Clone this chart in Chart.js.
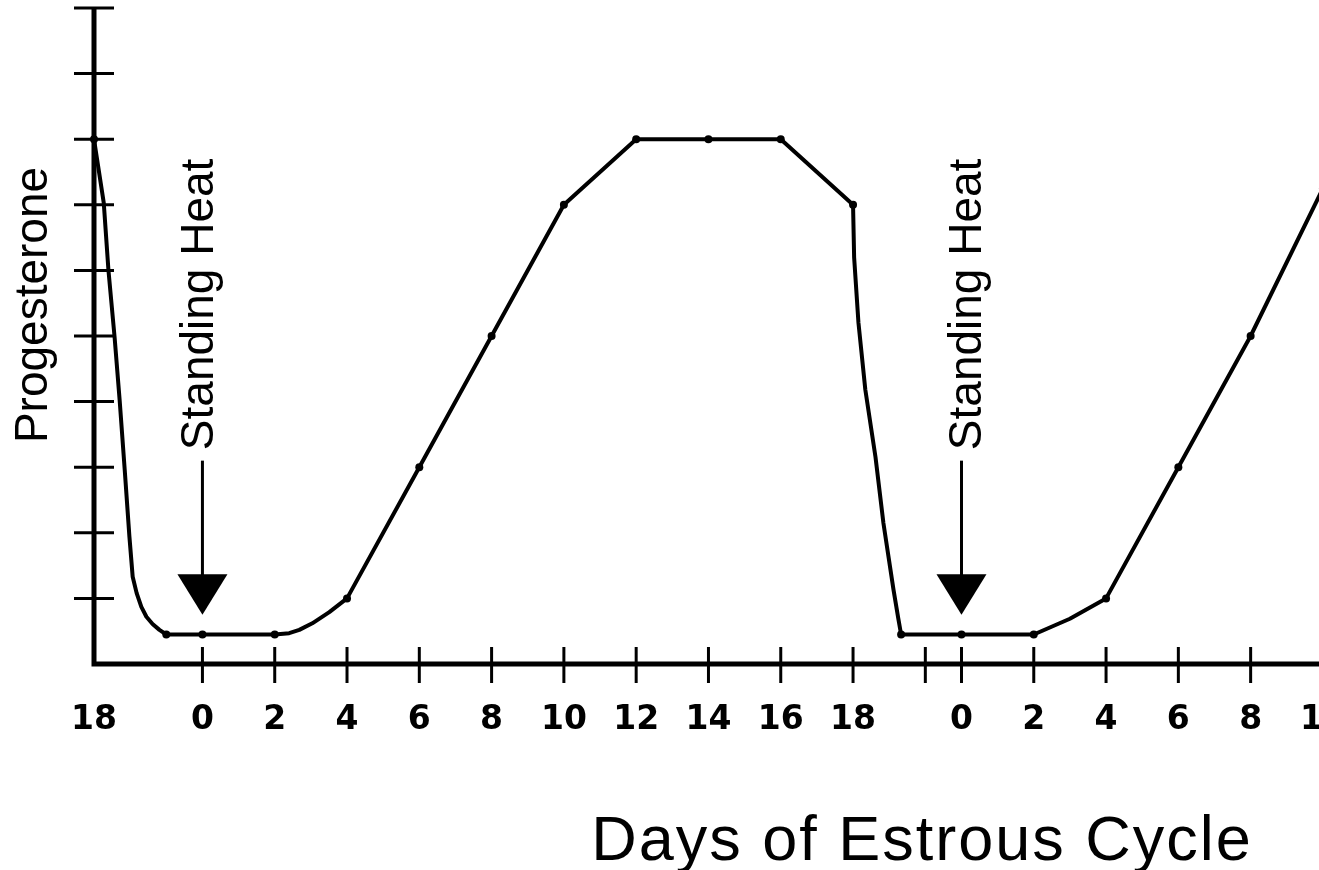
<!DOCTYPE html>
<html><head><meta charset="utf-8">
<script src="https://cdn.jsdelivr.net/npm/chart.js@4"></script>
<style>
html,body{margin:0;padding:0;background:#fff;overflow:hidden;width:1319px;height:870px}
#wrap{position:absolute;left:0;top:0;width:1345px;height:870px}
</style></head>
<body><div id="wrap"><canvas id="c"></canvas></div>
<script>
// continuous day position (first cycle day 18 = -3, second cycle day 0 = 21); unmarked entries trace the drawn curve
const days =         [-3, -2.73, -2.6, -2.43, -2.29, -2.15, -2.02, -1.93, -1.82, -1.69, -1.55, -1.38, -1.19, -1,
                      0, 2, 2.4, 2.68, 3.04, 3.51, 4, 6, 8, 10, 12, 14, 16, 18,
                      18.03, 18.15, 18.34, 18.62, 18.84, 19.12, 19.25, 19.33,
                      21, 23, 24, 25, 27, 29, 31];
const progesterone = [8, 7.03, 6.0, 4.98, 4.02, 2.96, 1.94, 1.33, 1.08, 0.87, 0.72, 0.61, 0.52, 0.45,
                      0.45, 0.45, 0.47, 0.52, 0.62, 0.79, 1, 3, 5, 7, 8, 8, 8, 7,
                      6.2, 5.2, 4.18, 3.16, 2.15, 1.13, 0.7, 0.45,
                      0.45, 0.45, 0.69, 1, 3, 5, 7.25];
const pointShown =   [1, 0, 0, 0, 0, 0, 0, 0, 0, 0, 0, 0, 0, 1,
                      1, 1, 0, 0, 0, 0, 1, 1, 1, 1, 1, 1, 1, 1,
                      0, 0, 0, 0, 0, 0, 0, 1,
                      1, 1, 0, 1, 1, 1, 1];
const xTickValues = [-3, 0, 2, 4, 6, 8, 10, 12, 14, 16, 18, 20, 21, 23, 25, 27, 29, 31];
const xTickLabels = ['18','0','2','4','6','8','10','12','14','16','18','','0','2','4','6','8','10'];
const yTickValues = [1, 2, 3, 4, 5, 6, 7, 8, 9, 10];
const heatDays = [0, 21];
const heatTextOffsets = [11, 20];
const heatLabel = 'Standing Heat';
const yTitle = 'Progesterone';
const xTitle = 'Days of Estrous Cycle';

const drawPlugin = {
  id: 'drawPlugin',
  beforeDatasetsDraw(chart) {
    const {ctx, scales: {x, y}} = chart;
    const x0 = x.getPixelForValue(xTickValues[0]);
    const y0 = y.getPixelForValue(0);
    ctx.save();
    ctx.strokeStyle = '#000'; ctx.fillStyle = '#000';
    ctx.lineWidth = 5;
    ctx.beginPath();
    ctx.moveTo(x0, y.getPixelForValue(10));
    ctx.lineTo(x0, y0);
    ctx.lineTo(chart.width, y0);
    ctx.stroke();
    ctx.lineWidth = 3;
    yTickValues.forEach(v => {
      const py = y.getPixelForValue(v);
      ctx.beginPath(); ctx.moveTo(x0 - 20, py); ctx.lineTo(x0 + 20, py); ctx.stroke();
    });
    xTickValues.forEach((v, i) => {
      if (i === 0) return;
      const px = x.getPixelForValue(v);
      ctx.beginPath(); ctx.moveTo(px, y0 - 17); ctx.lineTo(px, y0 + 19); ctx.stroke();
    });
    ctx.font = 'bold 33px "DejaVu Sans"';
    ctx.textAlign = 'center'; ctx.textBaseline = 'middle';
    xTickValues.forEach((v, i) => {
      ctx.fillText(xTickLabels[i], x.getPixelForValue(v), y0 + 56);
    });
    ctx.restore();
  },
  afterDatasetsDraw(chart) {
    const {ctx, scales: {x, y}} = chart;
    ctx.save();
    ctx.strokeStyle = '#000'; ctx.fillStyle = '#000';
    heatDays.forEach((d, i) => {
      const px = x.getPixelForValue(d);
      const tip = y.getPixelForValue(0.75);
      const triTop = y.getPixelForValue(1.37);
      const stemTop = y.getPixelForValue(3.1);
      ctx.lineWidth = 3;
      ctx.beginPath(); ctx.moveTo(px, stemTop); ctx.lineTo(px, triTop + 2); ctx.stroke();
      ctx.beginPath(); ctx.moveTo(px - 25, triTop); ctx.lineTo(px + 25, triTop); ctx.lineTo(px, tip); ctx.closePath(); ctx.fill();
      ctx.save();
      ctx.translate(px + heatTextOffsets[i], y.getPixelForValue(3.26));
      ctx.rotate(-Math.PI / 2);
      ctx.font = '46px "Liberation Sans"';
      ctx.textAlign = 'left'; ctx.textBaseline = 'alphabetic';
      ctx.fillText(heatLabel, 0, 0);
      ctx.restore();
    });
    ctx.save();
    ctx.translate(47, 305);
    ctx.rotate(-Math.PI / 2);
    ctx.font = '46px "Liberation Sans"';
    ctx.textAlign = 'center'; ctx.textBaseline = 'alphabetic';
    ctx.fillText(yTitle, 0, 0);
    ctx.restore();
    ctx.font = '63px "Liberation Sans"';
    ctx.letterSpacing = '2px';
    ctx.textAlign = 'center'; ctx.textBaseline = 'alphabetic';
    ctx.fillText(xTitle, 922, 860);
    ctx.restore();
  }
};

new Chart(document.getElementById('c'), {
  type: 'line',
  data: {
    datasets: [{
      data: days.map((d, i) => ({x: d, y: progesterone[i]})),
      borderColor: '#000',
      borderWidth: 4,
      tension: 0,
      borderJoinStyle: 'round',
      pointRadius: pointShown.map(s => s ? 4 : 0),
      pointBackgroundColor: '#000',
      pointBorderWidth: 0,
      clip: false,
      fill: false
    }]
  },
  options: {
    responsive: true,
    maintainAspectRatio: false,
    animation: false,
    events: [],
    layout: {padding: {left: 94, right: 2, top: 8, bottom: 206}},
    plugins: {legend: {display: false}, tooltip: {enabled: false}},
    scales: {
      x: {type: 'linear', min: -3, max: 31.5, display: false},
      y: {min: 0, max: 10, display: false}
    }
  },
  plugins: [drawPlugin]
});
</script>
</body></html>
